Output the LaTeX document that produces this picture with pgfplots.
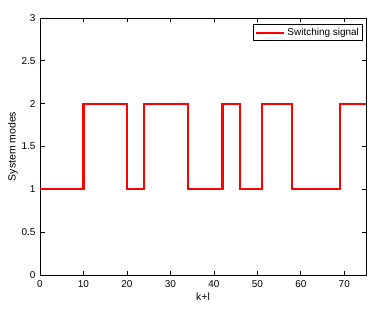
\documentclass[border=0pt]{standalone}
\usepackage{pgfplots}
\pgfplotsset{compat=1.18}
\usepackage{fontspec}
\setmainfont{Liberation Sans}
\begin{document}
\begin{tikzpicture}
\begin{axis}[
  scale only axis,
  width=326bp, height=257bp,
  xmin=0, xmax=75, ymin=0, ymax=3,
  xtick={0,10,...,70}, ytick={0,0.5,...,3},
  yticklabels={0,0.5,1,1.5,2,2.5,3},
  tick align=inside,
  xtick pos=both, ytick pos=both,
  major tick length=4.5bp,
  tick style={black, line width=0.7pt},
  axis line style={black, line width=0.8pt},
  tick label style={font=\fontsize{10}{11}\selectfont},
  xticklabel style={yshift=-2bp},
  yticklabel style={xshift=-1bp},
  /pgf/number format/assume math mode=true,
  xlabel={k+l}, ylabel={System modes},
  label style={font=\fontsize{10.5}{12}\selectfont},
  xlabel style={yshift=1bp},
  ylabel style={yshift=-3bp},
  legend style={at={(0.99,0.975)}, anchor=north east, font=\fontsize{10}{11}\selectfont, draw=black, line width=0.7pt, inner sep=1.5pt, legend cell align=left},
  legend image code/.code={\draw[#1, line width=2.2pt] (0bp,0bp) -- (28bp,0bp);},
]
\addplot[const plot, color=red, line width=2.2pt] coordinates {
(0,1) (10,2) (20,1) (24,2) (34,1) (42,2) (46,1) (51,2) (58,1) (69,2) (75,2)
};
\addlegendentry{Switching signal}
\end{axis}
\pgfresetboundingbox
\path[use as bounding box] (current axis.south west) ++(-40bp,-39bp) rectangle ([xshift=12bp,yshift=18bp]current axis.north east);
\end{tikzpicture}
\end{document}
